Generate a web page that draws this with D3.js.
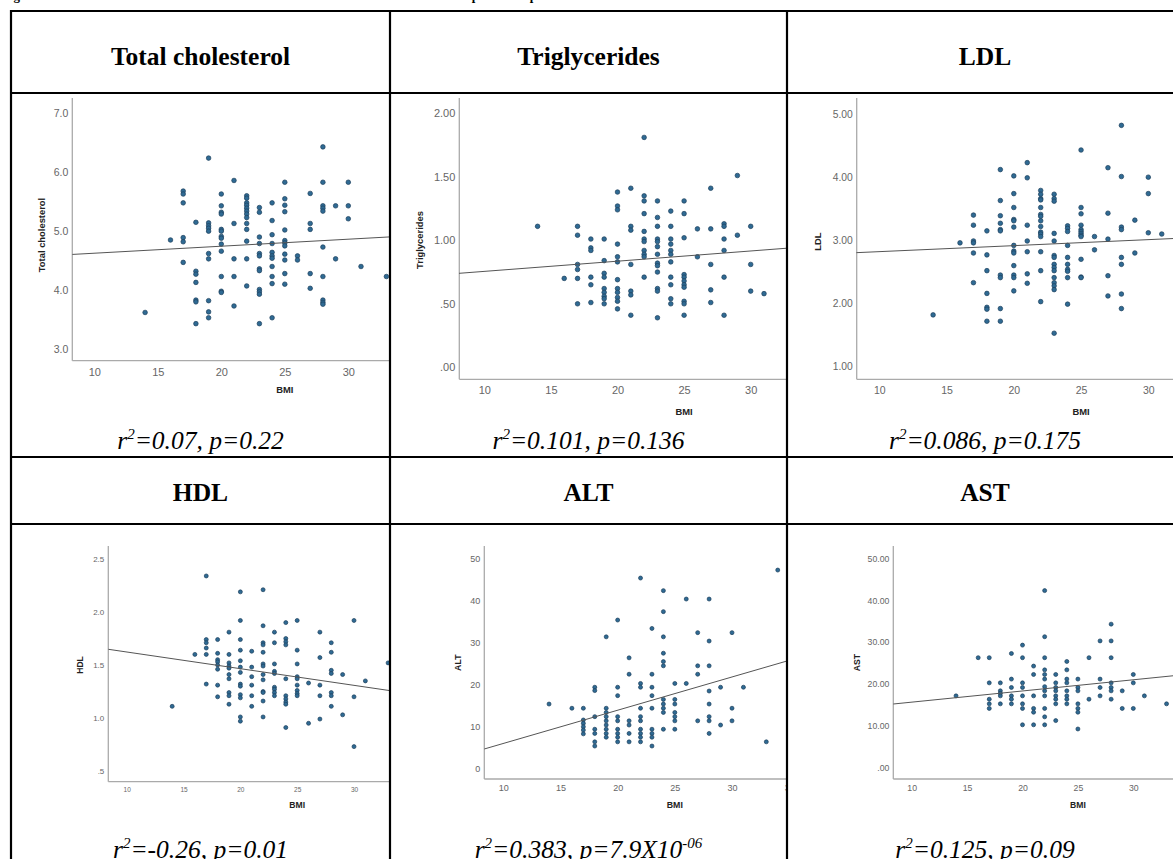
<!DOCTYPE html>
<html>
<head>
<meta charset="utf-8">
<script src="https://cdn.jsdelivr.net/npm/d3@7"></script>
<style>
    body{ margin: 0; background: #fff; }
    svg{ display: block; }
</style>
</head>
<body>
<svg id="fig"></svg>
<script>

/**************************************************************************************/
// data: [BMI, [values at that BMI]]

var bmiTicks = [10, 15, 20, 25, 30, 35];

var cholData = [
    [14, [3.62]], [16, [4.85]],
    [17, [5.68, 5.63, 5.48, 4.89, 4.82, 4.47]],
    [18, [5.15, 4.32, 4.27, 4.13, 3.83, 3.80, 3.43]],
    [19, [6.24, 5.14, 5.09, 5.05, 5.00, 4.62, 4.53, 3.82, 3.63, 3.53]],
    [20, [5.63, 5.43, 5.32, 5.29, 5.03, 5.00, 4.91, 4.88, 4.78, 4.66, 4.23, 3.98, 3.96]],
    [21, [5.86, 5.13, 4.53, 4.23, 3.73]],
    [22, [5.60, 5.56, 5.48, 5.44, 5.39, 5.34, 5.29, 5.23, 5.13, 5.03, 4.83, 4.53, 4.07]],
    [23, [5.40, 5.32, 4.90, 4.79, 4.62, 4.58, 4.36, 4.33, 4.01, 3.97, 3.93, 3.43]],
    [24, [5.48, 5.18, 4.94, 4.79, 4.64, 4.58, 4.54, 4.40, 4.23, 4.11, 3.53]],
    [25, [5.83, 5.55, 5.44, 5.33, 5.02, 4.84, 4.80, 4.75, 4.61, 4.51, 4.28, 4.10]],
    [26, [4.58, 4.51]],
    [27, [5.64, 5.13, 5.03, 4.28, 4.03]],
    [28, [6.43, 5.83, 5.43, 5.39, 5.34, 4.73, 4.23, 3.83, 3.79, 3.76]],
    [29, [5.43, 4.53]], [30, [5.83, 5.43, 5.21]], [31, [4.40]], [33, [4.23]]
];
var cholFit = [[8.27, 4.605], [33.5, 4.905]];

var trigData = [
    [14, [1.11]], [16, [0.70]],
    [17, [1.11, 1.04, 0.81, 0.77, 0.70, 0.50]],
    [18, [1.01, 0.94, 0.92, 0.71, 0.65, 0.51]],
    [19, [1.01, 0.84, 0.74, 0.71, 0.62, 0.59, 0.56, 0.54, 0.50]],
    [20, [1.38, 1.27, 1.24, 0.97, 0.87, 0.83, 0.69, 0.62, 0.59, 0.55, 0.52, 0.46]],
    [21, [1.41, 1.11, 1.08, 0.81, 0.60, 0.57, 0.41]],
    [22, [1.81, 1.35, 1.31, 1.21, 1.07, 1.01, 0.99, 0.92, 0.89, 0.87, 0.71]],
    [23, [1.31, 1.18, 1.11, 1.01, 0.99, 0.95, 0.89, 0.82, 0.80, 0.75, 0.62, 0.60, 0.39]],
    [24, [1.23, 1.11, 1.01, 0.97, 0.92, 0.89, 0.83, 0.71, 0.65, 0.54, 0.50]],
    [25, [1.31, 1.21, 1.02, 0.73, 0.71, 0.68, 0.65, 0.63, 0.52, 0.50, 0.41]],
    [26, [1.09, 0.87]],
    [27, [1.41, 1.09, 0.81, 0.61, 0.51]],
    [28, [1.13, 1.11, 1.01, 0.92, 0.71, 0.41]],
    [29, [1.51, 1.04]], [30, [1.11, 0.81, 0.60]], [31, [0.58]]
];
var trigFit = [[8.1, 0.74], [33, 0.94]];

var ldlData = [
    [14, [1.82]], [16, [2.96]],
    [17, [3.40, 3.24, 2.99, 2.96, 2.80, 2.33]],
    [18, [3.15, 2.77, 2.52, 2.16, 1.94, 1.91, 1.72]],
    [19, [4.12, 3.63, 3.39, 3.27, 3.17, 3.15, 2.45, 2.41, 1.92, 1.72]],
    [20, [4.02, 3.74, 3.52, 3.33, 3.31, 3.21, 2.92, 2.83, 2.80, 2.60, 2.45, 2.41, 2.20]],
    [21, [4.23, 3.99, 3.24, 2.99, 2.82, 2.47, 2.32]],
    [22, [3.79, 3.73, 3.66, 3.64, 3.52, 3.41, 3.38, 3.31, 3.22, 3.13, 3.10, 3.06, 2.82, 2.52, 2.03]],
    [23, [3.73, 3.66, 3.62, 3.11, 2.99, 2.76, 2.73, 2.62, 2.57, 2.52, 2.41, 2.33, 2.28, 2.22, 1.53]],
    [24, [3.23, 3.19, 3.14, 2.92, 2.73, 2.62, 2.54, 2.51, 2.41, 1.99]],
    [25, [4.43, 3.52, 3.42, 3.24, 3.17, 3.14, 3.11, 3.08, 3.06, 2.70, 2.42, 2.41]],
    [26, [3.06, 2.85]],
    [27, [4.15, 3.43, 3.02, 2.44, 2.12]],
    [28, [4.82, 4.01, 3.21, 3.17, 2.73, 2.62, 2.15, 1.92]],
    [29, [3.32, 2.80]], [30, [4.00, 3.74, 3.12]], [31, [3.10]]
];
var ldlFit = [[8.3, 2.805], [32.5, 3.035]];

var hdlData = [
    [14, [1.11]], [16, [1.60]],
    [17, [2.34, 1.74, 1.71, 1.66, 1.60, 1.32]],
    [18, [1.74, 1.61, 1.55, 1.53, 1.50, 1.46, 1.31, 1.20]],
    [19, [1.81, 1.60, 1.52, 1.49, 1.47, 1.41, 1.37, 1.24, 1.21, 1.13]],
    [20, [2.19, 1.92, 1.74, 1.64, 1.54, 1.48, 1.43, 1.32, 1.30, 1.22, 1.19, 1.01, 0.97]],
    [21, [1.63, 1.48, 1.39, 1.31, 1.21, 1.11]],
    [22, [2.21, 1.87, 1.71, 1.69, 1.62, 1.51, 1.49, 1.41, 1.36, 1.25, 1.24, 1.16, 1.01]],
    [23, [1.81, 1.71, 1.51, 1.44, 1.42, 1.29, 1.27, 1.24, 1.21]],
    [24, [1.90, 1.75, 1.72, 1.69, 1.37, 1.21, 1.18, 1.15, 1.13, 0.91]],
    [25, [1.92, 1.64, 1.51, 1.39, 1.37, 1.31, 1.26, 1.23, 1.21]],
    [26, [1.33, 0.95]],
    [27, [1.81, 1.57, 1.31, 1.21, 0.99]],
    [28, [1.71, 1.62, 1.45, 1.42, 1.24, 1.21, 1.11]],
    [29, [1.41, 1.03]], [30, [1.92, 1.20, 0.73]], [31, [1.35]], [33, [1.52]]
];
var hdlFit = [[8.39, 1.648], [33.5, 1.253]];

var altData = [
    [14, [15.3]], [16, [14.3]],
    [17, [14.3, 11.5, 10.7, 9.9, 9.1, 8.2]],
    [18, [19.3, 18.5, 12.3, 9.3, 8.3, 6.3, 5.3]],
    [19, [31.3, 14.3, 13.3, 12.3, 11.3, 10.3, 9.3, 8.3, 7.4]],
    [20, [35.3, 19.3, 17.3, 12.3, 11.3, 9.3, 8.3, 7.4, 6.3]],
    [21, [26.3, 22.4, 11.3, 10.3, 8.3, 6.3]],
    [22, [45.3, 20.2, 19.3, 14.3, 12.3, 11.3, 9.3, 8.3, 7.4, 6.3]],
    [23, [33.3, 22.4, 19.3, 17.3, 14.3, 9.3, 8.3, 7.4, 5.3]],
    [24, [42.3, 37.3, 31.3, 27.4, 25.4, 24.4, 16.4, 15.3, 14.3, 13.3, 9.3]],
    [25, [20.2, 16.4, 15.3, 13.3, 12.3, 11.3, 9.3]],
    [26, [40.3, 20.2]],
    [27, [32.3, 24.4, 22.4, 11.3]],
    [28, [40.3, 30.3, 24.4, 18.4, 15.3, 12.3, 11.3, 8.3]],
    [29, [19.3, 10.3]], [30, [32.3, 14.3, 11.3]], [31, [19.3]], [33, [6.3]], [34, [47.2]]
];
var altFit = [[8.34, 4.6], [35, 25.7]];

var astData = [
    [14, [17.2]], [16, [26.3]],
    [17, [26.3, 20.3, 16.4, 15.3, 14.2]],
    [18, [20.3, 18.4, 17.8, 17.2, 15.3]],
    [19, [27.3, 21.2, 19.2, 17.2, 16.4, 15.3]],
    [20, [29.3, 26.3, 20.3, 19.2, 17.2, 15.3, 14.2, 10.3]],
    [21, [24.3, 22.3, 17.2, 14.2, 13.3, 10.3]],
    [22, [42.3, 31.3, 26.3, 23.4, 22.3, 21.2, 19.4, 18.4, 17.2, 14.2, 12.2, 10.3]],
    [23, [22.3, 20.3, 19.2, 18.4, 17.2, 16.4, 15.3, 11.3]],
    [24, [25.4, 23.4, 21.2, 20.3, 18.4, 17.2, 16.4, 15.3]],
    [25, [21.2, 19.2, 18.4, 15.3, 14.2, 13.3, 9.3]],
    [26, [26.3, 16.4]],
    [27, [30.3, 21.2, 19.2, 17.2]],
    [28, [34.3, 30.3, 26.3, 20.3, 19.2, 18.4, 16.4]],
    [29, [18.4, 14.2]], [30, [22.3, 20.3, 14.2]], [31, [17.2]], [33, [15.3]], [34, [46.5]]
];
var astFit = [[8.34, 15.26], [34, 22.1]];

var headers = ['Total cholesterol', 'Triglycerides', 'LDL', 'HDL', 'ALT', 'AST'];
var yTitles = ['Total cholesterol', 'Triglycerides', 'LDL', 'HDL', 'ALT', 'AST'];
// caption parts: [main, superscript, main, superscript]
var captions = [
    ['r', '2', '=0.07, p=0.22'],
    ['r', '2', '=0.101, p=0.136'],
    ['r', '2', '=0.086, p=0.175'],
    ['r', '2', '=-0.26, p=0.01'],
    ['r', '2', '=0.383, p=7.9X10', '-06'],
    ['r', '2', '=0.125, p=0.09']
];

/**************************************************************************************/
// table layout

var W = 1173, H = 859;
var colX = [11, 390, 787, 1183];
var rowY = [11, 93, 457, 524, 905];   // header1, charts1, header2, charts2

var noZero = function(f){ return function(d){ var s = d3.format(f)(d); return s.replace(/^0\./, '.'); }; };

// one entry per chart: where the SPSS picture sits in its cell
var panels = [
    { data: cholData, fit: cholFit, col: 0, row: 1, ax: 72.3, ay: 360.7, top: 98,
      xr: [94.3, 348.3], yd: [3, 7], yr: [349, 113.3], yt: [3, 4, 5, 6, 7], fmt: d3.format('.1f'),
      fx: 11, fy: 10.5, xoff: 11, bmiOff: 29, tfs: 9.4, tx: 41.7, ty: 235, r: 2.3 },
    { data: trigData, fit: trigFit, col: 1, row: 1, ax: 459.3, ay: 379.3, top: 98,
      xr: [484.3, 750.7], yd: [0, 2], yr: [367.3, 113.3], yt: [0, 0.5, 1, 1.5, 2], fmt: noZero('.2f'),
      fx: 11, fy: 11, xoff: 10.7, bmiOff: 32.4, tfs: 9.4, tx: 420, ty: 240, r: 2.3 },
    { data: ldlData, fit: ldlFit, col: 2, row: 1, ax: 856.7, ay: 379.3, top: 98,
      xr: [879.3, 1148.3], yd: [1, 5], yr: [366.7, 114], yt: [1, 2, 3, 4, 5], fmt: d3.format('.2f'),
      fx: 10.5, fy: 10.3, xoff: 10.7, bmiOff: 32.4, tfs: 9.4, tx: 818, ty: 241.7, r: 2.3 },
    { data: hdlData, fit: hdlFit, col: 0, row: 3, ax: 108.3, ay: 781.7, top: 546,
      xr: [126.7, 354], yd: [0.5, 2.5], yr: [771, 559], yt: [0.5, 1, 1.5, 2, 2.5], fmt: noZero('.1f'),
      fx: 6.5, fy: 8, xoff: 7.6, bmiOff: 23.6, tfs: 8.6, tx: 80, ty: 665, r: 2.0 },
    { data: altData, fit: altFit, col: 1, row: 3, ax: 484.3, ay: 779, top: 546,
      xr: [503.3, 732], yd: [0, 50], yr: [768.3, 558.3], yt: [0, 10, 20, 30, 40, 50], fmt: d3.format('d'),
      fx: 9, fy: 9, xoff: 8.7, bmiOff: 26.3, tfs: 8.8, tx: 458.3, ty: 662.7, r: 2.0 },
    { data: astData, fit: astFit, col: 2, row: 3, ax: 893.3, ay: 779, top: 546,
      xr: [911.7, 1133.3], yd: [0, 50], yr: [768, 558.3], yt: [0, 10, 20, 30, 40, 50], fmt: noZero('.2f'),
      fx: 8.7, fy: 8.7, xoff: 8.7, bmiOff: 26.3, tfs: 8.6, tx: 856.7, ty: 662.7, r: 2.0 }
];

/**************************************************************************************/

var svg = d3.select('#fig').attr('width', W).attr('height', H);
svg.append('rect').attr('width', W).attr('height', H).attr('fill', '#fff');
var defs = svg.append('defs');

// figure title line, only its descenders show at the top of the picture
svg.append('text')
    .attr('x', 2).attr('y', 0)
    .style('font-family', '"Liberation Serif", "Times New Roman", serif')
    .style('font-size', '12.9px').style('font-weight', 'bold')
    .text('Figure 2: Correlation between BMI of the adolescents in the cohort and their serum lipid and hepatic markers');

/**************************************************************************************/

function drawPanel(p, i){
    var x0 = colX[p.col], x1 = colX[p.col+1];
    var y0 = rowY[p.row], y1 = rowY[p.row+1];

    defs.append('clipPath').attr('id', 'cell'+i)
        .append('rect').attr('x', x0+1).attr('y', y0+1).attr('width', x1-x0-2).attr('height', y1-y0-2);

    var g = svg.append('g').attr('clip-path', 'url(#cell'+i+')');

    var x = d3.scaleLinear().domain([10, 30]).range(p.xr);
    var y = d3.scaleLinear().domain(p.yd).range(p.yr);

    // axis lines
    g.append('line').attr('x1', p.ax).attr('x2', p.ax).attr('y1', p.top).attr('y2', p.ay)
        .attr('stroke', '#aaa').attr('stroke-width', 1.3);
    g.append('line').attr('x1', p.ax).attr('x2', x1+20).attr('y1', p.ay).attr('y2', p.ay)
        .attr('stroke', '#aaa').attr('stroke-width', 1.3);

    // ticks labels only, SPSS style
    var yAxis = g.append('g').attr('transform', 'translate(' +p.ax+ ',0)')
        .call(d3.axisLeft(y).tickValues(p.yt).tickFormat(p.fmt).tickSize(0).tickPadding(4));
    yAxis.select('.domain').remove();
    yAxis.selectAll('text').attr('fill', '#666')
        .style('font-family', '"Liberation Sans", Arial, sans-serif').style('font-size', p.fy+'px');

    var xAxis = g.append('g').attr('transform', 'translate(0,' +p.ay+ ')')
        .call(d3.axisBottom(x).tickValues(bmiTicks).tickFormat(d3.format('d')).tickSize(0).tickPadding(p.xoff - 0.36*p.fx));
    xAxis.select('.domain').remove();
    xAxis.selectAll('text').attr('fill', '#666')
        .style('font-family', '"Liberation Sans", Arial, sans-serif').style('font-size', p.fx+'px');

    // axis titles
    g.append('text')
        .attr('x', x(25)).attr('y', p.ay + p.bmiOff).attr('dy', '0.35em')
        .attr('text-anchor', 'middle').attr('fill', '#222')
        .style('font-family', '"Liberation Sans", Arial, sans-serif').style('font-weight', 'bold')
        .style('font-size', p.tfs+'px').text('BMI');

    g.append('text')
        .attr('transform', 'translate(' +p.tx+ ',' +p.ty+ ') rotate(-90)').attr('dy', '0.35em')
        .attr('text-anchor', 'middle').attr('fill', '#222')
        .style('font-family', '"Liberation Sans", Arial, sans-serif').style('font-weight', 'bold')
        .style('font-size', p.tfs+'px').text(yTitles[i]);

    // points
    var pts = [];
    p.data.forEach(function(d){ d[1].forEach(function(v){ pts.push([d[0], v]); }); });

    g.selectAll('circle.pt').data(pts).enter().append('circle')
        .attr('class', 'pt')
        .attr('cx', function(d){ return x(d[0]); })
        .attr('cy', function(d){ return y(d[1]); })
        .attr('r', p.r)
        .attr('fill', '#2f6a93').attr('stroke', '#1c3f5c').attr('stroke-width', 0.7);

    // fit line
    g.append('path')
        .datum(p.fit)
        .attr('d', d3.line().x(function(d){ return x(d[0]); }).y(function(d){ return y(d[1]); }))
        .attr('fill', 'none').attr('stroke', '#555').attr('stroke-width', 1);
}

panels.forEach(drawPanel);

/**************************************************************************************/
// header texts and captions

var colMid = function(c){ return (colX[c] + colX[c+1]) / 2; };

headers.forEach(function(h, i){
    var c = i % 3, r = i < 3 ? 0 : 2;
    svg.append('text')
        .attr('x', colMid(c)).attr('y', r == 0 ? 65 : 501)
        .attr('text-anchor', 'middle')
        .style('font-family', '"Liberation Serif", "Times New Roman", serif')
        .style('font-size', '25.5px').style('font-weight', 'bold')
        .text(h);
});

captions.forEach(function(cp, i){
    var c = i % 3;
    var t = svg.append('text')
        .attr('x', colMid(c)).attr('y', i < 3 ? 449 : 858)
        .attr('text-anchor', 'middle')
        .style('font-family', '"Liberation Serif", "Times New Roman", serif')
        .style('font-size', '25.5px').style('font-style', 'italic');
    t.append('tspan').text(cp[0]);
    t.append('tspan').attr('dy', -10).style('font-size', '15px').text(cp[1]);
    t.append('tspan').attr('dy', 10).text(cp[2]);
    if(cp[3]){ t.append('tspan').attr('dy', -10).style('font-size', '15px').text(cp[3]); }
});

/**************************************************************************************/
// table rules on top

var rules = svg.append('g').attr('stroke', '#000').attr('stroke-width', 2.2);
rowY.slice(0, 4).forEach(function(yy){
    rules.append('line').attr('x1', colX[0]-1).attr('x2', W+10).attr('y1', yy).attr('y2', yy);
});
colX.forEach(function(xx){
    rules.append('line').attr('x1', xx).attr('x2', xx).attr('y1', rowY[0]-1).attr('y2', H+10);
});

</script>
</body>
</html>
